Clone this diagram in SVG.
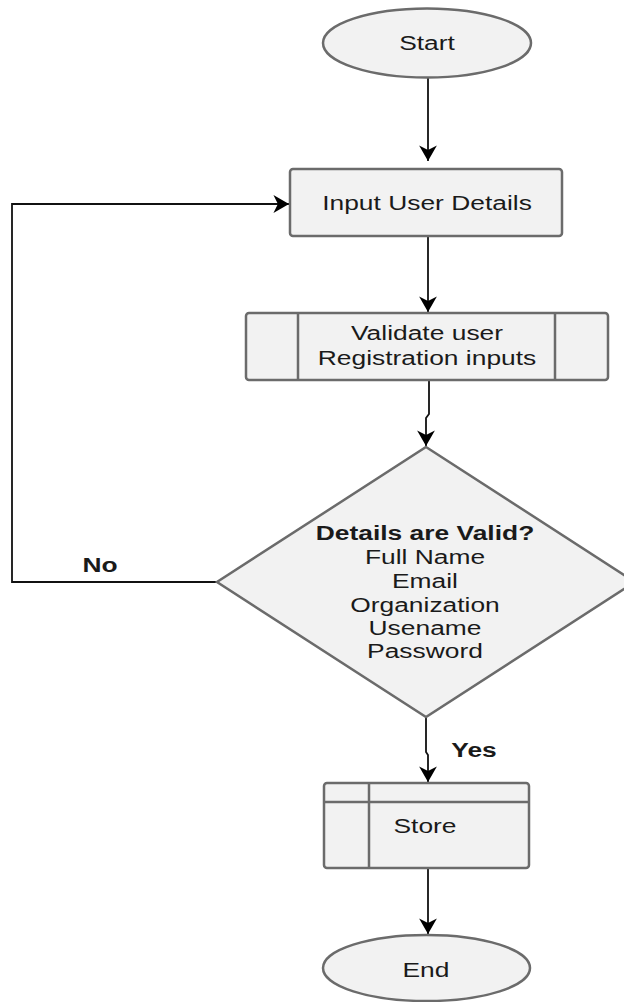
<svg xmlns="http://www.w3.org/2000/svg" width="624" height="1002" viewBox="0 0 624 1002">
  <style>
    .shape { fill: #f2f2f2; stroke: #6b6b6b; stroke-width: 2.5; }
    .inner { fill: none; stroke: #6b6b6b; stroke-width: 2.5; }
    .conn { fill: none; stroke: #111; stroke-width: 1.8; }
    .t { font-family: "Liberation Sans", Arial, sans-serif; font-size: 20px; fill: #1a1a1a; text-anchor: middle; }
    .b { font-weight: bold; }
  </style>
  <defs>
    <marker id="arrow" markerUnits="userSpaceOnUse" markerWidth="20" markerHeight="20" viewBox="-15 -9 16 18" refX="0" refY="0" orient="auto">
      <path d="M0,0 L-14,-8 L-10,0 L-14,8 Z" fill="#000"/>
    </marker>
  </defs>
  <rect width="624" height="1002" fill="#ffffff"/>

  <g id="connectors">
    <path class="conn" d="M428,78 V161" marker-end="url(#arrow)"/>
    <path class="conn" d="M428,237 V312" marker-end="url(#arrow)"/>
    <path class="conn" d="M429,380 V414 L426,418 V446" marker-end="url(#arrow)"/>
    <path class="conn" d="M426,717 V752 L428,755 V782" marker-end="url(#arrow)"/>
    <path class="conn" d="M428,868 V934" marker-end="url(#arrow)"/>
    <path class="conn" d="M217,582 H12 V204 H289" marker-end="url(#arrow)"/>
    <text class="t b" transform="translate(100,572) scale(1.32,1)">No</text>
    <text class="t b" transform="translate(474,757) scale(1.32,1)">Yes</text>
  </g>

  <g id="start">
    <ellipse class="shape" cx="427" cy="43" rx="104" ry="34.5"/>
    <text class="t" transform="translate(427,50) scale(1.32,1)">Start</text>
  </g>

  <g id="input">
    <rect class="shape" x="290" y="169" width="272" height="67" rx="3"/>
    <text class="t" transform="translate(427,210) scale(1.32,1)">Input User Details</text>
  </g>

  <g id="validate">
    <rect class="shape" x="246" y="313" width="362" height="67" rx="3"/>
    <line class="inner" x1="298" y1="313" x2="298" y2="380"/>
    <line class="inner" x1="555" y1="313" x2="555" y2="380"/>
    <text class="t" transform="translate(427,340) scale(1.32,1)">Validate user</text>
    <text class="t" transform="translate(427,365) scale(1.32,1)">Registration inputs</text>
  </g>

  <g id="decision">
    <polygon class="shape" points="426,447 635,582 426,717 217,582"/>
    <text class="t b" transform="translate(425,540) scale(1.32,1)">Details are Valid?</text>
    <text class="t" transform="translate(425,564) scale(1.32,1)">Full Name</text>
    <text class="t" transform="translate(425,588) scale(1.32,1)">Email</text>
    <text class="t" transform="translate(425,612) scale(1.32,1)">Organization</text>
    <text class="t" transform="translate(425,635) scale(1.32,1)">Usename</text>
    <text class="t" transform="translate(425,658) scale(1.32,1)">Password</text>
  </g>

  <g id="store">
    <rect class="shape" x="324" y="783" width="205" height="85" rx="3"/>
    <line class="inner" x1="369" y1="783" x2="369" y2="868"/>
    <line class="inner" x1="324" y1="802" x2="529" y2="802"/>
    <text class="t" transform="translate(425,833) scale(1.32,1)">Store</text>
  </g>

  <g id="end">
    <ellipse class="shape" cx="426.5" cy="968" rx="103.5" ry="33"/>
    <text class="t" transform="translate(426,977) scale(1.32,1)">End</text>
  </g>
</svg>
